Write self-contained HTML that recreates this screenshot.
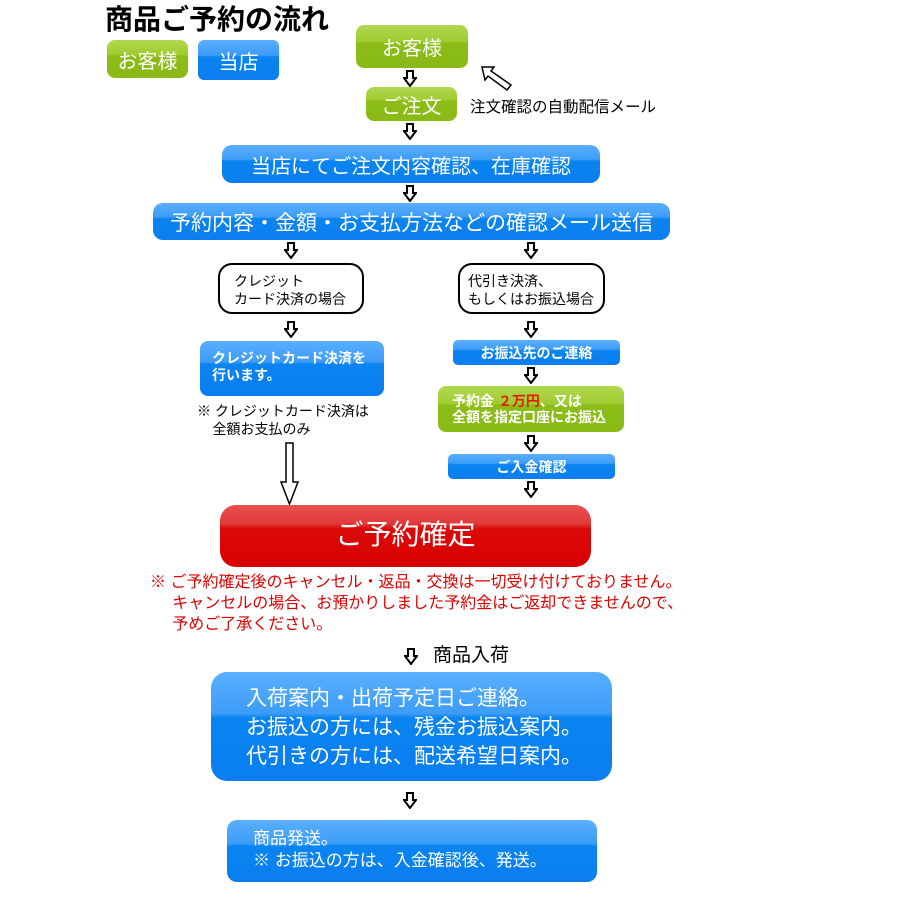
<!DOCTYPE html>
<html><head><meta charset="utf-8"><style>
body{margin:0;width:900px;height:900px;background:#fff;position:relative;overflow:hidden;font-family:"Liberation Sans","Noto Sans CJK JP",sans-serif;}
.a{position:absolute;}
.b{position:absolute;color:#fff;border-radius:10px;box-sizing:border-box;background:linear-gradient(#5aafff 0%,#3d9cf8 38%,#0a84f0 42%,#0a7ef0 100%);}
.g{position:absolute;color:#fff;border-radius:8px;box-sizing:border-box;background:linear-gradient(#b0d850 0%,#a0cc30 38%,#8cbc18 42%,#8aba16 100%);}
.r{position:absolute;color:#fff;border-radius:16px;box-sizing:border-box;background:linear-gradient(#e85050 0%,#e23a3a 30%,#dc0a0a 38%,#d80000 100%);}
.c{display:flex;align-items:center;justify-content:center;}
.w{position:absolute;border:2px solid #000;border-radius:14px;background:#fff;box-sizing:border-box;font-size:14px;line-height:18px;padding:7px 0 0 14px;}
.ar{position:absolute;width:14px;height:17px;}
</style></head><body>
<svg width="0" height="0" style="position:absolute"><defs><symbol id="dn" viewBox="0 0 14 17"><polygon points="4,1 10,1 10,8 13,8 7,16 1,8 4,8" fill="#fff" stroke="#000" stroke-width="2" stroke-linejoin="miter"/></symbol></defs></svg>
<div class="a" style="left:105px;top:3px;font-size:28px;font-weight:bold;line-height:34px;">商品ご予約の流れ</div>
<div class="g c" style="left:107px;top:40px;width:81px;height:38px;font-size:20px;">お客様</div>
<div class="b c" style="left:198px;top:40px;width:81px;height:40px;font-size:20px;border-radius:6px;">当店</div>

<div class="g c" style="left:356px;top:25px;width:112px;height:43px;font-size:20px;">お客様</div>
<svg class="ar" style="left:403px;top:70px"><use href="#dn"/></svg>
<svg class="a" style="left:480px;top:64px" width="34" height="28"><polygon points="2,3 14,3 11,7 31,21 27,26 8,12 5,16" fill="#fff" stroke="#000" stroke-width="1.5"/></svg>
<div class="g c" style="left:366px;top:87px;width:91px;height:34px;font-size:20px;">ご注文</div>
<div class="a" style="left:470px;top:95px;font-size:15.5px;">注文確認の自動配信メール</div>
<svg class="ar" style="left:403px;top:123px"><use href="#dn"/></svg>
<div class="b c" style="left:222px;top:145px;width:378px;height:38px;font-size:20px;">当店にてご注文内容確認、在庫確認</div>
<svg class="ar" style="left:403px;top:185px"><use href="#dn"/></svg>
<div class="b c" style="left:153px;top:203px;width:517px;height:37px;font-size:21px;">予約内容・金額・お支払方法などの確認メール送信</div>
<svg class="ar" style="left:284px;top:242px"><use href="#dn"/></svg>
<svg class="ar" style="left:524px;top:242px"><use href="#dn"/></svg>
<div class="w" style="left:218px;top:263px;width:146px;height:51px;">クレジット<br>カード決済の場合</div>
<div class="w" style="left:458px;top:263px;width:147px;height:51px;padding-left:8px;">代引き決済、<br>もしくはお振込場合</div>
<svg class="ar" style="left:284px;top:321px"><use href="#dn"/></svg>
<svg class="ar" style="left:524px;top:321px"><use href="#dn"/></svg>
<div class="b" style="left:200px;top:341px;width:184px;height:55px;font-size:14px;font-weight:bold;line-height:17px;padding:9px 0 0 12px;border-radius:8px;">クレジットカード決済を<br>行います。</div>
<div class="a" style="left:197px;top:402px;font-size:14px;line-height:18px;">※ クレジットカード決済は<br>&nbsp;&nbsp;&nbsp;&nbsp;全額お支払のみ</div>
<svg class="a" style="left:280px;top:442px" width="20" height="64"><polygon points="6,1 13,1 13,40 18,40 9.5,62 1,40 6,40" fill="#fff" stroke="#000" stroke-width="1.5"/></svg>
<div class="b c" style="left:453px;top:340px;width:167px;height:25px;font-size:14px;font-weight:bold;border-radius:5px;">お振込先のご連絡</div>
<svg class="ar" style="left:524px;top:367px"><use href="#dn"/></svg>
<div class="g" style="left:438px;top:386px;width:186px;height:46px;font-size:14px;font-weight:bold;line-height:16px;padding:7px 0 0 14px;">予約金 <span style="color:#e02000">２万円</span>、又は<br>全額を指定口座にお振込</div>
<svg class="ar" style="left:524px;top:435px"><use href="#dn"/></svg>
<div class="b c" style="left:448px;top:454px;width:167px;height:25px;font-size:14px;font-weight:bold;border-radius:5px;">ご入金確認</div>
<svg class="ar" style="left:524px;top:481px"><use href="#dn"/></svg>
<div class="r c" style="left:220px;top:505px;width:371px;height:62px;font-size:28px;padding-bottom:6px;">ご予約確定</div>
<div class="a" style="left:150px;top:572px;font-size:16px;line-height:21px;color:#e00000;">※ ご予約確定後のキャンセル・返品・交換は一切受け付けておりません。<br>&nbsp;&nbsp;&nbsp;&nbsp;&nbsp;キャンセルの場合、お預かりしました予約金はご返却できませんので、<br>&nbsp;&nbsp;&nbsp;&nbsp;&nbsp;予めご了承ください。</div>
<svg class="ar" style="left:404px;top:648px"><use href="#dn"/></svg>
<div class="a" style="left:433px;top:644px;font-size:19px;line-height:24px;">商品入荷</div>
<div class="b" style="left:211px;top:672px;width:401px;height:109px;font-size:21px;line-height:29px;padding:12px 0 0 35px;border-radius:16px;">入荷案内・出荷予定日ご連絡。<br>お振込の方には、残金お振込案内。<br>代引きの方には、配送希望日案内。</div>
<svg class="ar" style="left:403px;top:792px"><use href="#dn"/></svg>
<div class="b" style="left:227px;top:820px;width:370px;height:62px;font-size:17px;line-height:22px;padding:8px 0 0 26px;">商品発送。<br>※ お振込の方は、入金確認後、発送。</div>
</body></html>
